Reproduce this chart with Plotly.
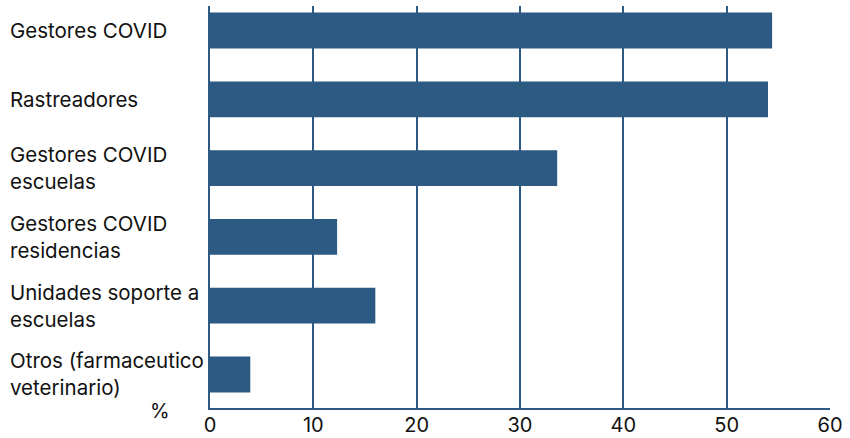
import plotly.graph_objs as go

categories = ["Gestores COVID", "Rastreadores", "Gestores COVID<br>escuelas",
              "Gestores COVID<br>residencias", "Unidades soporte a<br>escuelas",
              "Otros (farmaceutico<br>veterinario)"]
values = [54.4, 54.0, 33.6, 12.3, 16.0, 3.9]
x_ticks = [0, 10, 20, 30, 40, 50, 60]

blue = '#2c5a83'
font = 'Inter, Liberation Sans, Arial'
text_color = '#111111'

fig = go.Figure()
fig.add_trace(go.Bar(x=values, y=list(range(len(categories))), orientation='h',
                     marker=dict(color=blue, line=dict(width=0)), width=0.52))

# Left-aligned category labels
for i, c in enumerate(categories):
    fig.add_annotation(x=0, xref='paper', xshift=-202, y=i, yref='y', text=c,
                       showarrow=False, xanchor='left', yanchor='middle', align='left',
                       font=dict(family=font, size=20.5, color=text_color))

fig.add_annotation(x=0, xref='paper', xshift=-62, y=0, yref='paper', yshift=-3, text='%',
                   showarrow=False, xanchor='left', yanchor='middle',
                   font=dict(family=font, size=20, color=text_color))

fig.update_layout(
    width=850, height=438,
    margin=dict(l=210, r=20, t=6, b=30, autoexpand=False),
    plot_bgcolor='white', paper_bgcolor='white',
    showlegend=False,
    xaxis=dict(range=[0, 60], tickvals=x_ticks, showgrid=True, gridcolor=blue, gridwidth=1.5,
               showline=True, linecolor=blue, linewidth=1.5, zeroline=False, ticks='',
               ticklabelstandoff=-2,
               automargin=False, tickfont=dict(family=font, size=20, color=text_color)),
    yaxis=dict(range=[5.487, -0.356], showticklabels=False, showgrid=False, automargin=False,
               showline=True, linecolor=blue, linewidth=1.5, zeroline=False, ticks=''),
)

# page body has a default 8px margin; drop it so the figure fills the window
fig.write_html("out.html", config={'displayModeBar': False},
               post_script="document.body.style.margin='0';")
